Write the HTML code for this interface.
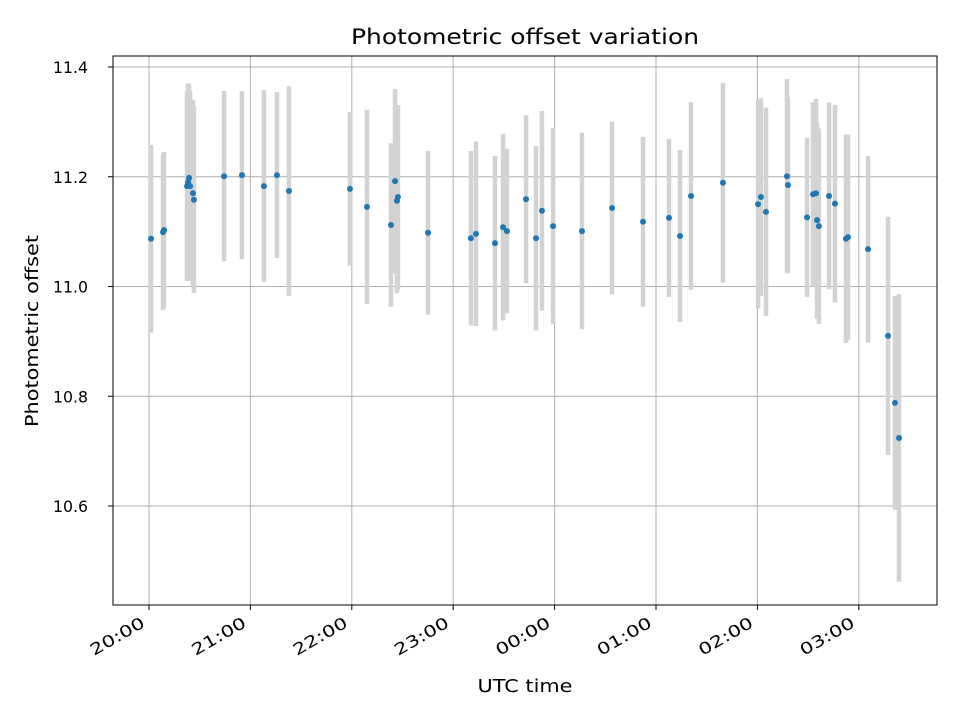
<!DOCTYPE html>
<html><head><meta charset="utf-8"><style>
body{margin:0;background:#fff;font-family:"Liberation Sans","DejaVu Sans",sans-serif}
</style></head><body>
<svg id="chart" width="960" height="720" xmlns="http://www.w3.org/2000/svg" font-family="DejaVu Sans, Liberation Sans, sans-serif">
<rect width="960" height="720" fill="#fff"/>
<text x="525" y="44" text-anchor="middle" font-size="21" textLength="348" lengthAdjust="spacingAndGlyphs">Photometric offset variation</text>
<text x="525" y="692" text-anchor="middle" font-size="18" textLength="95" lengthAdjust="spacingAndGlyphs">UTC time</text>
<text transform="translate(38,331) rotate(-90)" text-anchor="middle" font-size="18" textLength="192" lengthAdjust="spacingAndGlyphs">Photometric offset</text>
<g id="grid"></g><g id="errs"></g><g id="pts"></g><g id="ticks"></g>
<rect x="113" y="56" width="824" height="549" fill="none" stroke="#000" stroke-width="1"/>
</svg>
<script>
const times=[1.2,8.3,8.9,22.5,23.1,23.7,24.3,26.0,26.6,44.4,55.0,68.0,75.7,82.8,118.9,129.0,143.2,145.6,146.7,147.3,165.1,190.5,193.5,204.7,209.5,211.8,223.1,229.0,232.5,239.1,256.2,274.0,292.3,307.7,314.2,320.7,339.6,360.4,362.1,365.1,377.5,378.1,389.4,392.9,394.7,395.3,396.4,402.4,405.9,412.4,413.6,425.5,437.3,441.4,443.8];
const values=[11.087,11.099,11.103,11.183,11.190,11.198,11.183,11.170,11.158,11.201,11.203,11.183,11.203,11.174,11.178,11.145,11.112,11.192,11.156,11.163,11.098,11.088,11.096,11.079,11.108,11.101,11.159,11.088,11.138,11.110,11.101,11.143,11.118,11.125,11.092,11.165,11.189,11.150,11.163,11.136,11.201,11.185,11.126,11.168,11.170,11.121,11.110,11.165,11.151,11.087,11.090,11.068,10.910,10.788,10.724];
const errors=[0.171,0.142,0.142,0.173,0.18,0.17,0.173,0.17,0.17,0.155,0.153,0.175,0.151,0.191,0.14,0.177,0.149,0.168,0.168,0.168,0.149,0.159,0.168,0.159,0.17,0.15,0.153,0.168,0.182,0.179,0.179,0.157,0.155,0.144,0.157,0.171,0.182,0.19,0.18,0.19,0.177,0.16,0.145,0.168,0.172,0.18,0.178,0.17,0.18,0.19,0.187,0.17,0.217,0.195,0.262];
const yTicks=[10.6,10.8,11.0,11.2,11.4];
const xTickMins=[0,60,120,180,240,300,360,420];
const xTickLabels=["20:00","21:00","22:00","23:00","00:00","01:00","02:00","03:00"];
const NS="http://www.w3.org/2000/svg";
const X=m=>149+m*101.4/60;
const Y=v=>67+(11.4-v)*548.75;
function mk(tag,attrs,parent){const e=document.createElementNS(NS,tag);for(const k in attrs)e.setAttribute(k,attrs[k]);document.getElementById(parent).appendChild(e);return e;}
yTicks.forEach((t,i)=>{
 const g=mk('line',{x1:113,x2:937,y1:Y(t),y2:Y(t),stroke:'#b0b0b0','stroke-width':1},'grid');
 
 
 const tk=mk('line',{x1:108,x2:113,y1:Y(t),y2:Y(t),stroke:'#000'},'ticks');
 
 
 const tx=mk('text',{x:88,y:Y(t)+6,'text-anchor':'end','font-size':16,textLength:35,lengthAdjust:'spacingAndGlyphs'},'ticks');
 tx.textContent=t.toFixed(1);
 
 
});
xTickMins.forEach((m,i)=>{
 const g=mk('line',{x1:X(m),x2:X(m),y1:56,y2:605,stroke:'#b0b0b0','stroke-width':1},'grid');
 
 
 const tk=mk('line',{x1:X(m),x2:X(m),y1:605,y2:610,stroke:'#000'},'ticks');
 
 
 const tx=mk('text',{transform:`translate(${X(m)-3},${626}) rotate(-30)`,'text-anchor':'end','font-size':16,textLength:60,lengthAdjust:'spacingAndGlyphs'},'ticks');
 tx.textContent=xTickLabels[i];
 
 
});
times.forEach((m,i)=>{
 const e=mk('line',{x1:X(m),x2:X(m),y1:Y(values[i]+errors[i]),y2:Y(values[i]-errors[i]),stroke:'#d3d3d3','stroke-width':4.5},'errs');
 
 
 const p=mk('circle',{cx:X(m),cy:Y(values[i]),r:3,fill:'#1f77b4'},'pts');
 
 
});
</script>
</body></html>
